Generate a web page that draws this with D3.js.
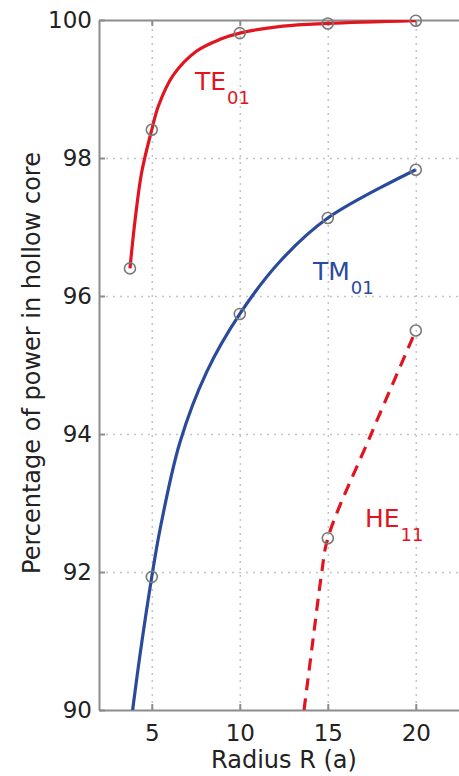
<!DOCTYPE html>
<html>
<head>
<meta charset="utf-8">
<script src="https://cdn.jsdelivr.net/npm/d3@7"></script>
<style>
body { margin:0; background:#fff; }
text { font-family: "DejaVu Sans", sans-serif; fill:#222; }
.axis path, .axis line { stroke:#8c8c8c; stroke-width:2; }
.grid line { stroke:#c4c4c4; stroke-width:1.5; stroke-dasharray:2,5; }
.grid path { display:none; }
</style>
</head>
<body>
<svg id="chart"></svg>
<script>

// x ticks and y ticks
var xTicks = [5, 10, 15, 20]
var yTicks = [90, 92, 94, 96, 98, 100]

// TE01 curve (solid red)
var teCurveX = [3.76, 4.05, 4.43, 5, 5.37, 6.22, 7.55, 8.88, 10, 12.45, 15, 20]
var teCurveY = [96.40, 97.10, 97.80, 98.41, 98.75, 99.20, 99.55, 99.72, 99.81, 99.91, 99.95, 99.99]
var teMarkX = [3.76, 5, 10, 15, 20]
var teMarkY = [96.40, 98.41, 99.81, 99.95, 99.99]

// TM01 curve (solid blue)
var tmCurveX = [3.91, 4.33, 5, 5.47, 6.60, 8.12, 10, 12.28, 15, 20]
var tmCurveY = [90.0, 90.80, 91.93, 92.62, 93.88, 94.90, 95.74, 96.50, 97.13, 97.83]
var tmMarkX = [5, 10, 15, 20]
var tmMarkY = [91.93, 95.74, 97.13, 97.83]

// HE11 curve (dashed red)
var heCurveX = [13.65, 14.18, 14.65, 15, 17.5, 20]
var heCurveY = [90.0, 91.06, 91.98, 92.49, 94.02, 95.50]
var heMarkX = [15, 20]
var heMarkY = [92.49, 95.50]

var zip = function(xs, ys)
{
    return xs.map(function(d, i) { return {x: d, y: ys[i]} })
}

var screen = {width: 459, height: 776}
var margins = {left: 99, top: 20, bottom: 66}
var graph =
    {
        width: 23 * 17.6,
        height: screen.height - margins.top - margins.bottom
    }

var svg = d3.select("#chart")
    .attr("width", screen.width)
    .attr("height", screen.height)

var xScale = d3.scaleLinear()
    .domain([2, 25])
    .range([0, graph.width])

var yScale = d3.scaleLinear()
    .domain([90, 100])
    .range([graph.height, 0])

var target = svg.append("g")
    .attr("transform", "translate(" + margins.left + "," + margins.top + ")")

svg.append("clipPath")
    .attr("id", "plotclip")
    .append("rect")
    .attr("width", graph.width)
    .attr("height", graph.height)

// dotted grid
target.append("g")
    .classed("grid", true)
    .attr("transform", "translate(0," + graph.height + ")")
    .call(d3.axisBottom(xScale).tickValues(xTicks).tickSize(-graph.height).tickFormat(""))

target.append("g")
    .classed("grid", true)
    .call(d3.axisLeft(yScale).tickValues([92, 94, 96, 98]).tickSize(-graph.width).tickFormat(""))

// axes, ticks inside like matlab
target.append("g")
    .classed("axis", true)
    .attr("transform", "translate(0," + graph.height + ")")
    .call(d3.axisBottom(xScale).tickValues(xTicks).tickSizeInner(-6).tickSizeOuter(0).tickPadding(15))

target.append("g")
    .classed("axis", true)
    .call(d3.axisTop(xScale).tickValues(xTicks).tickSizeInner(-6).tickSizeOuter(0).tickFormat(""))

target.append("g")
    .classed("axis", true)
    .call(d3.axisLeft(yScale).tickValues(yTicks).tickSizeInner(-6).tickSizeOuter(0).tickPadding(7))

target.selectAll(".axis text")
    .style("font-size", "23px")
    .style("font-family", "DejaVu Sans")
    .attr("fill", "#222")

// curves
var line = d3.line()
    .x(function(d) { return xScale(d.x) })
    .y(function(d) { return yScale(d.y) })
    .curve(d3.curveCatmullRom.alpha(0.5))

var curves = target.append("g").attr("clip-path", "url(#plotclip)")

var drawCurve = function(points, color, dash)
{
    curves.append("path")
        .datum(points)
        .attr("d", line)
        .attr("fill", "none")
        .attr("stroke", color)
        .attr("stroke-width", 3.2)
        .attr("stroke-dasharray", dash)
}

drawCurve(zip(teCurveX, teCurveY), "#e2141f", null)
drawCurve(zip(tmCurveX, tmCurveY), "#2a4a9c", null)
drawCurve(zip(heCurveX, heCurveY), "#e2141f", "12,8")

// circle markers
var marks = zip(teMarkX, teMarkY).concat(zip(tmMarkX, tmMarkY)).concat(zip(heMarkX, heMarkY))

target.selectAll("circle.mark")
    .data(marks)
    .enter()
    .append("circle")
    .classed("mark", true)
    .attr("cx", function(d) { return xScale(d.x) })
    .attr("cy", function(d) { return yScale(d.y) })
    .attr("r", 5.5)
    .attr("fill", "none")
    .attr("stroke", "#7a7a7a")
    .attr("stroke-width", 1.6)

// curve labels with subscripts
var drawTag = function(main, sub, x, y, color)
{
    var t = target.append("text")
        .attr("x", xScale(x))
        .attr("y", yScale(y))
        .style("font-size", "25px")
        .style("fill", color)
    t.append("tspan").text(main)
    t.append("tspan")
        .text(sub)
        .attr("dx", 1)
        .attr("dy", 14)
        .style("font-size", "18px")
}

drawTag("TE", "01", 7.45, 98.99, "#e2141f")
drawTag("TM", "01", 14.16, 96.23, "#2a4a9c")
drawTag("HE", "11", 17.11, 92.65, "#e2141f")

// axis titles
svg.append("text")
    .text("Radius R (a)")
    .attr("text-anchor", "middle")
    .attr("x", 284)
    .attr("y", 768)
    .style("font-size", "24px")

svg.append("g")
    .attr("transform", "translate(40,363)")
    .append("text")
    .text("Percentage of power in hollow core")
    .attr("text-anchor", "middle")
    .attr("transform", "rotate(270)")
    .style("font-size", "24px")

</script>
</body>
</html>
